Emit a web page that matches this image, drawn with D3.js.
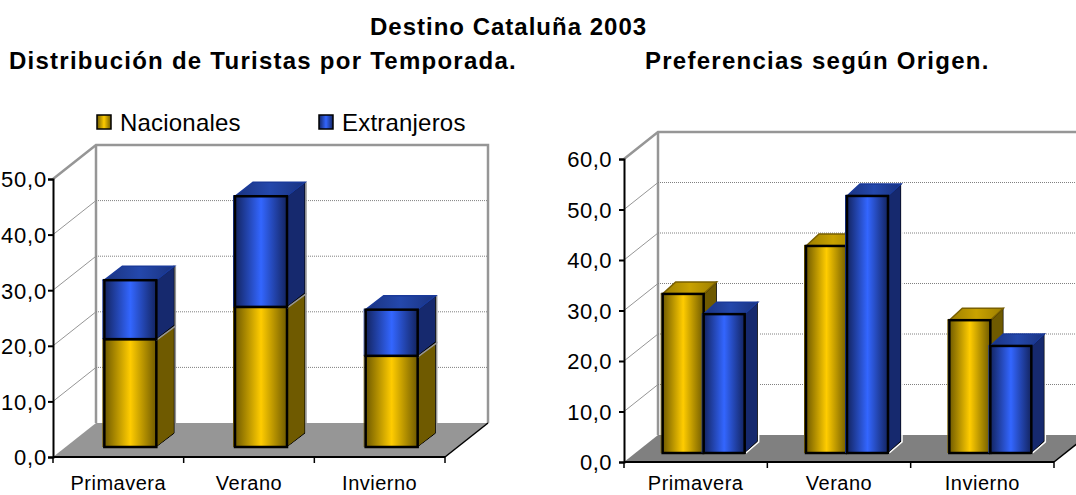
<!DOCTYPE html>
<html><head><meta charset="utf-8">
<script src="https://cdn.jsdelivr.net/npm/d3@7"></script>
<style>html,body{margin:0;padding:0;background:#fff;overflow:hidden}text{font-family:"Liberation Sans",Arial,sans-serif;fill:#000}</style>
</head><body><svg id="c" width="1076" height="495"></svg>
<script>
const categories = ["Primavera","Verano","Invierno"];
const seriesNames = ["Nacionales","Extranjeros"];
const stackNacionales = [19.4,25.2,16.4];
const stackExtranjeros = [10.6,19.9,8.3];
const origenNacionales = [31.5,41.0,26.3];
const origenExtranjeros = [27.5,50.9,21.2];
const ticksLeft = [0,10,20,30,40,50];
const ticksRight = [0,10,20,30,40,50,60];
const titles = ["Destino Cataluña 2003","Distribución de Turistas por Temporada.","Preferencias según Origen."];
const fmt = v => d3.format(".1f")(v).replace(".",",");

const svg = d3.select("#c");
const defs = svg.append("defs");
function grad(id,a,b){
  const g = defs.append("linearGradient").attr("id",id);
  g.append("stop").attr("offset","0%").attr("stop-color",a);
  g.append("stop").attr("offset","50%").attr("stop-color",b);
  g.append("stop").attr("offset","100%").attr("stop-color",a);
}
grad("gN","#6f5a00","#ffcc00");
grad("gE","#132460","#3366ff");
grad("tN","#9c7e00","#c9a200");
grad("tE","#1a3380","#2448ac");
const side = {N:"#6f5a00",E:"#16296e"};
const rim = {N:"#7a6000",E:"#1a3a9a"};

function frame(o){
  const g = svg.append("g");
  const y = d3.scaleLinear().domain([0,o.max]).range([o.y0,o.yTop]);
  const x = d3.scaleBand().domain(categories).range([o.x0,o.x1]);
  const {dx,dy} = o;
  const xr = o.x1+dx, yb = o.y0-dy, yt = y(o.max)-dy, xb=o.x0+dx;
  g.append("polygon").attr("points",[[o.x0,o.y0],[xb,yb],[xr,yb],[o.x1,o.y0]].join(" ")).attr("fill",o.floor);
  g.append("path").attr("d",`M${o.x0},${y(o.max)}L${xb},${yt}L${xr},${yt}L${xr},${yb}`).attr("fill","none").attr("stroke","#969696").attr("stroke-width",2.5);
  g.append("line").attr("x1",xb).attr("x2",xb).attr("y1",yt).attr("y2",yb).attr("stroke","#969696").attr("stroke-width",2.5);
  g.append("line").attr("x1",xr).attr("x2",o.x1).attr("y1",yb).attr("y2",o.y0).attr("stroke","#000").attr("stroke-width",1.5);
  const t = o.ticks;
  t.slice(1,-1).forEach(v=>{
    g.append("line").attr("x1",o.x0).attr("y1",y(v)).attr("x2",xb).attr("y2",y(v)-dy).attr("stroke","#969696").attr("stroke-width",1);
    g.append("line").attr("x1",xb).attr("y1",y(v)-dy).attr("x2",xr).attr("y2",y(v)-dy).attr("stroke","#808080").attr("stroke-width",1).attr("stroke-dasharray","1 1");
  });
  const ay = d3.axisLeft(y).tickValues(t).tickFormat(fmt).tickSize(5).tickPadding(o.yPad);
  const gy = g.append("g").attr("transform",`translate(${o.x0},0)`).call(ay);
  gy.selectAll("text").attr("font-size",o.tickFont).attr("letter-spacing",o.tickLs).attr("dy",".36em");
  gy.selectAll("path,line").attr("stroke","#000").attr("stroke-width",2);
  const ax = d3.axisBottom(x).tickSize(0).tickPadding(o.xPad);
  const gx = g.append("g").attr("transform",`translate(0,${o.y0})`).call(ax);
  gx.select("path").attr("stroke","#000").attr("stroke-width",2).attr("d",`M${o.x0},0H${o.x1}`);
  gx.selectAll("line").remove();
  gx.selectAll("text").attr("font-size",o.catFont).attr("letter-spacing",0.5);
  const edges = [...categories.map(c=>x(c)),o.x1];
  edges.forEach(e=>g.append("line").attr("x1",e).attr("x2",e).attr("y1",o.y0).attr("y2",o.y0+6).attr("stroke","#000").attr("stroke-width",1.5));
  return {g,x,y};
}
let o_hl="#969696";
function bar(g,x0,w,yTop,yBot,key,ddx,ddy,withTop){
  const x1=x0+w;
  g.append("polygon").attr("points",[[x1,yBot],[x1+ddx,yBot-ddy],[x1+ddx,yTop-ddy],[x1,yTop]].join(" "))
    .attr("fill",side[key]).attr("stroke","#000").attr("stroke-width",1);
  g.append("polyline").attr("points",[[x1,yBot+1],[x1+ddx+1,yBot-ddy+1],[x1+ddx+1,yTop-ddy]].join(" "))
    .attr("fill","none").attr("stroke",o_hl).attr("stroke-width",1.5);
  g.append("line").attr("x1",x1).attr("x2",x1+ddx).attr("y1",yTop).attr("y2",yTop-ddy).attr("stroke","#000").attr("stroke-width",1.5);
  if(withTop) g.append("polygon").attr("points",[[x0,yTop],[x0+ddx,yTop-ddy],[x1+ddx,yTop-ddy],[x1,yTop]].join(" "))
    .attr("fill",`url(#t${key})`).attr("stroke",rim[key]).attr("stroke-width",1.5);
  g.append("line").attr("x1",x0-1.5).attr("x2",x0-1.5).attr("y1",yTop-1).attr("y2",yBot).attr("stroke",rim[key]).attr("stroke-width",1);
  g.append("rect").attr("x",x0).attr("y",yTop).attr("width",w).attr("height",yBot-yTop)
    .attr("fill",`url(#g${key})`).attr("stroke","#000").attr("stroke-width",2.5);
}

// LEFT stacked chart
const L = frame({x0:53,x1:445,y0:457,yTop:179,max:50,dx:43,dy:34,floor:"#969696",ticks:ticksLeft,tickFont:22,tickLs:0.8,yPad:1,catFont:20,xPad:19});
categories.forEach((c,i)=>{
  const base = L.y(0)-10;
  const h = v=>L.y(0)-L.y(v);
  const xb = L.x(c)+L.x.bandwidth()/2+12-26;
  const w = 52;
  bar(L.g,xb,w,base-h(stackNacionales[i]),base,"N",18,14,false);
  bar(L.g,xb,w,base-h(stackNacionales[i]+stackExtranjeros[i]),base-h(stackNacionales[i]),"E",18,14,true);
});
// legend
const lg = svg.append("g");
seriesNames.forEach((n,i)=>{
  const lx=[97,319][i];
  lg.append("rect").attr("x",lx).attr("y",115).attr("width",14).attr("height",14)
    .attr("fill",`url(#g${i?"E":"N"})`).attr("stroke","#000").attr("stroke-width",1.5);
  lg.append("text").attr("x",lx+23).attr("y",131).attr("font-size",24).attr("letter-spacing",0.2).text(n);
});

// RIGHT clustered chart
o_hl="#ffffff";
const R = frame({x0:624,x1:1054,y0:462,yTop:159,max:60,dx:34,dy:27,floor:"#808080",ticks:ticksRight,tickFont:22,tickLs:0.5,yPad:7,catFont:20,xPad:14});
categories.forEach((c,i)=>{
  const base = R.y(0)-9;
  const h = v=>R.y(0)-R.y(v);
  const cx = R.x(c)+R.x.bandwidth()/2+8;
  const w=41;
  bar(R.g,cx-w,w,base-h(origenNacionales[i]),base,"N",13,12,true);
  bar(R.g,cx,w,base-h(origenExtranjeros[i]),base,"E",13,12,true);
});

// titles
const tt = svg.append("g").attr("font-weight","bold");
tt.append("text").attr("x",370).attr("y",35).attr("font-size",24).attr("letter-spacing",1).attr("font-weight","bold").text(titles[0]);
tt.append("text").attr("x",9).attr("y",69).attr("font-size",24).attr("font-weight","bold").attr("letter-spacing",1.25).text(titles[1]);
tt.append("text").attr("x",645).attr("y",69).attr("font-size",24).attr("font-weight","bold").attr("letter-spacing",1.25).text(titles[2]);
</script></body></html>
